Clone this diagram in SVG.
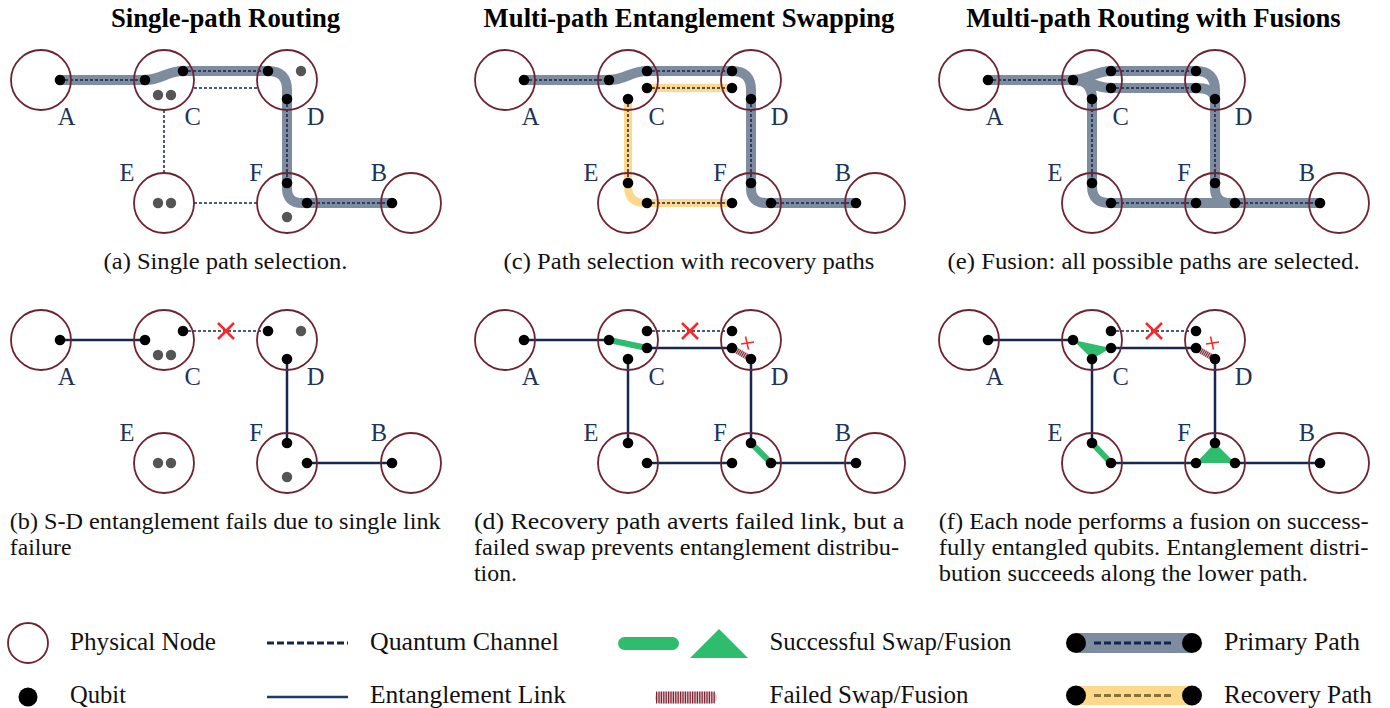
<svg xmlns="http://www.w3.org/2000/svg" width="1390" height="708" viewBox="0 0 1390 708">
<defs>
<style>
.node{fill:none;stroke:#6d2331;stroke-width:1.8}
.q{fill:#000}
.qg{fill:#555}
.lbl{font-family:"Liberation Serif","Times New Roman",serif;font-size:24.5px;fill:#1d3358;text-anchor:middle}
.ch{fill:none;stroke:#12264a;stroke-width:1.5;stroke-dasharray:3 2}
.ent{fill:none;stroke:#14294d;stroke-width:2.5}
.prim{fill:none;stroke:#7e8ca0;stroke-width:10;stroke-linecap:round;stroke-linejoin:round}
.rec{fill:none;stroke:#fed98b;stroke-width:8;stroke-linecap:round;stroke-linejoin:round}
.ok{fill:none;stroke:#2ebd6c;stroke-width:6}
.okf{fill:#2ebd6c}
.failbg{fill:none;stroke:#dcb8be;stroke-width:6}
.fail{fill:none;stroke:#7a2535;stroke-width:6;stroke-dasharray:1 1}
.x{stroke:#ff2626;stroke-width:2.5;fill:none}
.xs{stroke:#ff2626;stroke-width:1.5;fill:none}
.title{font-family:"Liberation Serif","Times New Roman",serif;font-size:26.7px;font-weight:bold;fill:#000;text-anchor:middle}
.cap{font-family:"Liberation Serif","Times New Roman",serif;font-size:24px;fill:#111}
.leg{font-family:"Liberation Serif","Times New Roman",serif;font-size:24.5px;fill:#111}
</style>
</defs>
<rect width="1390" height="708" fill="#fff"/>

<g id="titles">
<text class="title" x="225.5" y="27">Single-path Routing</text>
<text class="title" x="689" y="27">Multi-path Entanglement Swapping</text>
<text class="title" x="1153.5" y="27">Multi-path Routing with Fusions</text>
</g>

<!-- Panel (a) -->
<g id="panel-a">
<g id="a-connectors">
<path class="prim" d="M60,80 H145 C161,80 167,71 183,71 H268 Q287,71 287,90 V188 Q287,203 302,203 H392"/>
<path class="ch" d="M60,80 H145 M183,71 H268 M194,88 H257 M164,110 V173 M194,203 H257 M287,99 V183 M307,203 H392"/>
</g>
<g id="a-A"><circle class="node" cx="41" cy="80" r="30"/><text class="lbl" x="66.5" y="125">A</text><circle class="q" cx="60" cy="80" r="5.3"/></g>
<g id="a-C"><circle class="node" cx="164" cy="80" r="30"/><text class="lbl" x="192.6" y="125">C</text><circle class="q" cx="145" cy="80" r="5.3"/><circle class="q" cx="183" cy="71" r="5.3"/><circle class="qg" cx="158" cy="95" r="5.2"/><circle class="qg" cx="171" cy="95" r="5.2"/></g>
<g id="a-D"><circle class="node" cx="287" cy="80" r="30"/><text class="lbl" x="315.6" y="125">D</text><circle class="q" cx="268" cy="71" r="5.3"/><circle class="q" cx="287" cy="99" r="5.3"/><circle class="qg" cx="301" cy="71" r="5.2"/></g>
<g id="a-E"><circle class="node" cx="164" cy="203" r="30"/><text class="lbl" x="127" y="181">E</text><circle class="qg" cx="158" cy="203" r="5.2"/><circle class="qg" cx="171" cy="203" r="5.2"/></g>
<g id="a-F"><circle class="node" cx="287" cy="203" r="30"/><text class="lbl" x="256" y="181">F</text><circle class="q" cx="287" cy="183" r="5.3"/><circle class="q" cx="307" cy="203" r="5.3"/><circle class="qg" cx="287" cy="217" r="5.2"/></g>
<g id="a-B"><circle class="node" cx="411" cy="203" r="30"/><text class="lbl" x="379" y="181">B</text><circle class="q" cx="392" cy="203" r="5.3"/></g>
</g>

<!-- Panel (c) -->
<g id="panel-c" transform="translate(464,0)">
<g id="c-connectors">
<path class="prim" d="M60,80 H145 C161,80 167,71 183,71 H268 Q287,71 287,90 V188 Q287,203 302,203 H392"/>
<path class="rec" d="M183,88 H268"/>
<path class="rec" d="M164,99 V186 Q164,203 181,203 H268"/>
<path class="ch" d="M60,80 H145 M183,71 H268 M183,88 H268 M164,99 V183 M183,203 H268 M287,99 V183 M307,203 H392"/>
</g>
<g id="c-A"><circle class="node" cx="41" cy="80" r="30"/><text class="lbl" x="66.5" y="125">A</text><circle class="q" cx="60" cy="80" r="5.3"/></g>
<g id="c-C"><circle class="node" cx="164" cy="80" r="30"/><text class="lbl" x="192.6" y="125">C</text><circle class="q" cx="145" cy="80" r="5.3"/><circle class="q" cx="183" cy="71" r="5.3"/><circle class="q" cx="183" cy="88" r="5.3"/><circle class="q" cx="164" cy="99" r="5.3"/></g>
<g id="c-D"><circle class="node" cx="287" cy="80" r="30"/><text class="lbl" x="315.6" y="125">D</text><circle class="q" cx="268" cy="71" r="5.3"/><circle class="q" cx="268" cy="88" r="5.3"/><circle class="q" cx="287" cy="99" r="5.3"/></g>
<g id="c-E"><circle class="node" cx="164" cy="203" r="30"/><text class="lbl" x="127" y="181">E</text><circle class="q" cx="164" cy="183" r="5.3"/><circle class="q" cx="183" cy="203" r="5.3"/></g>
<g id="c-F"><circle class="node" cx="287" cy="203" r="30"/><text class="lbl" x="256" y="181">F</text><circle class="q" cx="268" cy="203" r="5.3"/><circle class="q" cx="287" cy="183" r="5.3"/><circle class="q" cx="307" cy="203" r="5.3"/></g>
<g id="c-B"><circle class="node" cx="411" cy="203" r="30"/><text class="lbl" x="379" y="181">B</text><circle class="q" cx="392" cy="203" r="5.3"/></g>
</g>

<!-- Panel (e) -->
<g id="panel-e" transform="translate(928,0)">
<g id="e-connectors">
<path class="prim" d="M60,80 H145"/>
<path class="prim" d="M145,80 C161,80 167,71 183,71 H268 Q287,71 287,90 V188 Q287,203 302,203 H392"/>
<path class="prim" d="M145,80 C161,80 167,88 183,88 H268 Q287,88 287,100"/>
<path class="prim" d="M145,80 Q164,80 164,99 V186 Q164,203 181,203 H307"/>
<path class="ch" d="M60,80 H145 M183,71 H268 M183,88 H268 M164,99 V183 M183,203 H268 M287,99 V183 M307,203 H392"/>
</g>
<g id="e-A"><circle class="node" cx="41" cy="80" r="30"/><text class="lbl" x="66.5" y="125">A</text><circle class="q" cx="60" cy="80" r="5.3"/></g>
<g id="e-C"><circle class="node" cx="164" cy="80" r="30"/><text class="lbl" x="192.6" y="125">C</text><circle class="q" cx="145" cy="80" r="5.3"/><circle class="q" cx="183" cy="71" r="5.3"/><circle class="q" cx="183" cy="88" r="5.3"/><circle class="q" cx="164" cy="99" r="5.3"/></g>
<g id="e-D"><circle class="node" cx="287" cy="80" r="30"/><text class="lbl" x="315.6" y="125">D</text><circle class="q" cx="268" cy="71" r="5.3"/><circle class="q" cx="268" cy="88" r="5.3"/><circle class="q" cx="287" cy="99" r="5.3"/></g>
<g id="e-E"><circle class="node" cx="164" cy="203" r="30"/><text class="lbl" x="127" y="181">E</text><circle class="q" cx="164" cy="183" r="5.3"/><circle class="q" cx="183" cy="203" r="5.3"/></g>
<g id="e-F"><circle class="node" cx="287" cy="203" r="30"/><text class="lbl" x="256" y="181">F</text><circle class="q" cx="268" cy="203" r="5.3"/><circle class="q" cx="287" cy="183" r="5.3"/><circle class="q" cx="307" cy="203" r="5.3"/></g>
<g id="e-B"><circle class="node" cx="411" cy="203" r="30"/><text class="lbl" x="379" y="181">B</text><circle class="q" cx="392" cy="203" r="5.3"/></g>
</g>

<!-- Panel (b) -->
<g id="panel-b" transform="translate(0,260)">
<g id="b-connectors">
<path class="ent" d="M60,80 H145 M287,99 V183 M307,203 H392"/>
<path class="ch" d="M183,71 H268"/>
<path class="x" d="M218,63 L234,79 M234,63 L218,79"/>
</g>
<g id="b-A"><circle class="node" cx="41" cy="80" r="30"/><text class="lbl" x="66.5" y="125">A</text><circle class="q" cx="60" cy="80" r="5.3"/></g>
<g id="b-C"><circle class="node" cx="164" cy="80" r="30"/><text class="lbl" x="192.6" y="125">C</text><circle class="q" cx="145" cy="80" r="5.3"/><circle class="q" cx="183" cy="71" r="5.3"/><circle class="qg" cx="158" cy="95" r="5.2"/><circle class="qg" cx="171" cy="95" r="5.2"/></g>
<g id="b-D"><circle class="node" cx="287" cy="80" r="30"/><text class="lbl" x="315.6" y="125">D</text><circle class="q" cx="268" cy="71" r="5.3"/><circle class="q" cx="287" cy="99" r="5.3"/><circle class="qg" cx="301" cy="71" r="5.2"/></g>
<g id="b-E"><circle class="node" cx="164" cy="203" r="30"/><text class="lbl" x="127" y="181">E</text><circle class="qg" cx="158" cy="203" r="5.2"/><circle class="qg" cx="171" cy="203" r="5.2"/></g>
<g id="b-F"><circle class="node" cx="287" cy="203" r="30"/><text class="lbl" x="256" y="181">F</text><circle class="q" cx="287" cy="183" r="5.3"/><circle class="q" cx="307" cy="203" r="5.3"/><circle class="qg" cx="287" cy="217" r="5.2"/></g>
<g id="b-B"><circle class="node" cx="411" cy="203" r="30"/><text class="lbl" x="379" y="181">B</text><circle class="q" cx="392" cy="203" r="5.3"/></g>
</g>

<!-- Panel (d) -->
<g id="panel-d" transform="translate(464,260)">
<g id="d-connectors">
<path class="ent" d="M60,80 H145 M183,88 H268 M164,99 V183 M183,203 H268 M287,99 V183 M307,203 H392"/>
<path class="ch" d="M183,71 H268"/>
<path class="x" d="M218,63 L234,79 M234,63 L218,79"/>
<path class="ok" d="M145,80 L183,88 M287,183 L307,203"/>
<path class="failbg" d="M268,88 L287,99"/>
<path class="fail" d="M268,88 L287,99"/>
<path class="xs" d="M281.5,76.5 L284.5,89.5 M277,84 L290,82"/>
</g>
<g id="d-A"><circle class="node" cx="41" cy="80" r="30"/><text class="lbl" x="66.5" y="125">A</text><circle class="q" cx="60" cy="80" r="5.3"/></g>
<g id="d-C"><circle class="node" cx="164" cy="80" r="30"/><text class="lbl" x="192.6" y="125">C</text><circle class="q" cx="145" cy="80" r="5.3"/><circle class="q" cx="183" cy="71" r="5.3"/><circle class="q" cx="183" cy="88" r="5.3"/><circle class="q" cx="164" cy="99" r="5.3"/></g>
<g id="d-D"><circle class="node" cx="287" cy="80" r="30"/><text class="lbl" x="315.6" y="125">D</text><circle class="q" cx="268" cy="71" r="5.3"/><circle class="q" cx="268" cy="88" r="5.3"/><circle class="q" cx="287" cy="99" r="5.3"/></g>
<g id="d-E"><circle class="node" cx="164" cy="203" r="30"/><text class="lbl" x="127" y="181">E</text><circle class="q" cx="164" cy="183" r="5.3"/><circle class="q" cx="183" cy="203" r="5.3"/></g>
<g id="d-F"><circle class="node" cx="287" cy="203" r="30"/><text class="lbl" x="256" y="181">F</text><circle class="q" cx="268" cy="203" r="5.3"/><circle class="q" cx="287" cy="183" r="5.3"/><circle class="q" cx="307" cy="203" r="5.3"/></g>
<g id="d-B"><circle class="node" cx="411" cy="203" r="30"/><text class="lbl" x="379" y="181">B</text><circle class="q" cx="392" cy="203" r="5.3"/></g>
</g>

<!-- Panel (f) -->
<g id="panel-f" transform="translate(928,260)">
<g id="f-connectors">
<path class="ent" d="M60,80 H145 M183,88 H268 M164,99 V183 M183,203 H268 M287,99 V183 M307,203 H392"/>
<path class="ch" d="M183,71 H268"/>
<path class="x" d="M218,63 L234,79 M234,63 L218,79"/>
<polygon class="okf" points="145,80 183,88 164,99"/>
<path class="ok" d="M164,183 L183,203"/>
<polygon class="okf" points="268,203 287,183 307,203"/>
<path class="failbg" d="M268,88 L287,99"/>
<path class="fail" d="M268,88 L287,99"/>
<path class="xs" d="M282.5,76.5 L285.5,89.5 M278,84 L291,82"/>
</g>
<g id="f-A"><circle class="node" cx="41" cy="80" r="30"/><text class="lbl" x="66.5" y="125">A</text><circle class="q" cx="60" cy="80" r="5.3"/></g>
<g id="f-C"><circle class="node" cx="164" cy="80" r="30"/><text class="lbl" x="192.6" y="125">C</text><circle class="q" cx="145" cy="80" r="5.3"/><circle class="q" cx="183" cy="71" r="5.3"/><circle class="q" cx="183" cy="88" r="5.3"/><circle class="q" cx="164" cy="99" r="5.3"/></g>
<g id="f-D"><circle class="node" cx="287" cy="80" r="30"/><text class="lbl" x="315.6" y="125">D</text><circle class="q" cx="268" cy="71" r="5.3"/><circle class="q" cx="268" cy="88" r="5.3"/><circle class="q" cx="287" cy="99" r="5.3"/></g>
<g id="f-E"><circle class="node" cx="164" cy="203" r="30"/><text class="lbl" x="127" y="181">E</text><circle class="q" cx="164" cy="183" r="5.3"/><circle class="q" cx="183" cy="203" r="5.3"/></g>
<g id="f-F"><circle class="node" cx="287" cy="203" r="30"/><text class="lbl" x="256" y="181">F</text><circle class="q" cx="268" cy="203" r="5.3"/><circle class="q" cx="287" cy="183" r="5.3"/><circle class="q" cx="307" cy="203" r="5.3"/></g>
<g id="f-B"><circle class="node" cx="411" cy="203" r="30"/><text class="lbl" x="379" y="181">B</text><circle class="q" cx="392" cy="203" r="5.3"/></g>
</g>

<g id="captions">
<text class="cap" x="103.6" y="269" textLength="243.7" lengthAdjust="spacingAndGlyphs">(a) Single path selection.</text>
<text class="cap" x="503.6" y="269" textLength="370.8" lengthAdjust="spacingAndGlyphs">(c) Path selection with recovery paths</text>
<text class="cap" x="947.6" y="269" textLength="412" lengthAdjust="spacingAndGlyphs">(e) Fusion: all possible paths are selected.</text>
<text class="cap" x="9.8" y="529" textLength="430.8" lengthAdjust="spacingAndGlyphs">(b) S-D entanglement fails due to single link</text>
<text class="cap" x="9.8" y="555" textLength="61.6" lengthAdjust="spacingAndGlyphs">failure</text>
<text class="cap" x="474" y="529" textLength="430.3" lengthAdjust="spacingAndGlyphs">(d) Recovery path averts failed link, but a</text>
<text class="cap" x="474" y="555" textLength="425" lengthAdjust="spacingAndGlyphs">failed swap prevents entanglement distribu-</text>
<text class="cap" x="474" y="581" textLength="43" lengthAdjust="spacingAndGlyphs">tion.</text>
<text class="cap" x="938.7" y="529" textLength="429.9" lengthAdjust="spacingAndGlyphs">(f) Each node performs a fusion on success-</text>
<text class="cap" x="938.7" y="555" textLength="429.9" lengthAdjust="spacingAndGlyphs">fully entangled qubits. Entanglement distri-</text>
<text class="cap" x="938.7" y="581" textLength="369.3" lengthAdjust="spacingAndGlyphs">bution succeeds along the lower path.</text>
</g>

<g id="legend">
<g id="leg-node"><circle class="node" cx="28" cy="643" r="20"/><text class="leg" x="70" y="650" textLength="146" lengthAdjust="spacingAndGlyphs">Physical Node</text></g>
<g id="leg-qubit"><circle class="q" cx="28" cy="697" r="9.5"/><text class="leg" x="70" y="703" textLength="56" lengthAdjust="spacingAndGlyphs">Qubit</text></g>
<g id="leg-channel"><line x1="267" y1="643" x2="348" y2="643" stroke="#12264a" stroke-width="3.2" stroke-dasharray="7 3"/><text class="leg" x="370" y="650" textLength="189" lengthAdjust="spacingAndGlyphs">Quantum Channel</text></g>
<g id="leg-link"><line x1="267" y1="697" x2="348" y2="697" stroke="#1d3a68" stroke-width="2.5"/><text class="leg" x="370" y="703" textLength="196" lengthAdjust="spacingAndGlyphs">Entanglement Link</text></g>
<g id="leg-success"><rect x="618" y="637" width="61" height="13" rx="6.5" class="okf"/><polygon class="okf" points="690,658 719,629 748,658"/><text class="leg" x="769.5" y="650" textLength="242" lengthAdjust="spacingAndGlyphs">Successful Swap/Fusion</text></g>
<g id="leg-fail"><line x1="661" y1="697.5" x2="711" y2="697.5" stroke="#e6c6cb" stroke-width="12" stroke-linecap="round"/><line x1="656" y1="697.5" x2="716" y2="697.5" stroke="#7a2535" stroke-width="12" stroke-dasharray="1.2 1.2"/><text class="leg" x="769.5" y="703" textLength="199" lengthAdjust="spacingAndGlyphs">Failed Swap/Fusion</text></g>
<g id="leg-primary"><rect x="1076" y="633" width="116" height="20" fill="#7e8ca0"/><line x1="1094" y1="643" x2="1174" y2="643" stroke="#12264a" stroke-width="3" stroke-dasharray="7 3"/><circle class="q" cx="1076" cy="643" r="10"/><circle class="q" cx="1192" cy="643" r="10"/><text class="leg" x="1224" y="650" textLength="136" lengthAdjust="spacingAndGlyphs">Primary Path</text></g>
<g id="leg-recovery"><rect x="1076" y="686" width="116" height="19" fill="#fed98b"/><line x1="1094" y1="695.5" x2="1174" y2="695.5" stroke="#85733a" stroke-width="3" stroke-dasharray="7 3"/><circle class="q" cx="1076" cy="695.5" r="10"/><circle class="q" cx="1192" cy="695.5" r="10"/><text class="leg" x="1224" y="703" textLength="148" lengthAdjust="spacingAndGlyphs">Recovery Path</text></g>
</g>
</svg>
